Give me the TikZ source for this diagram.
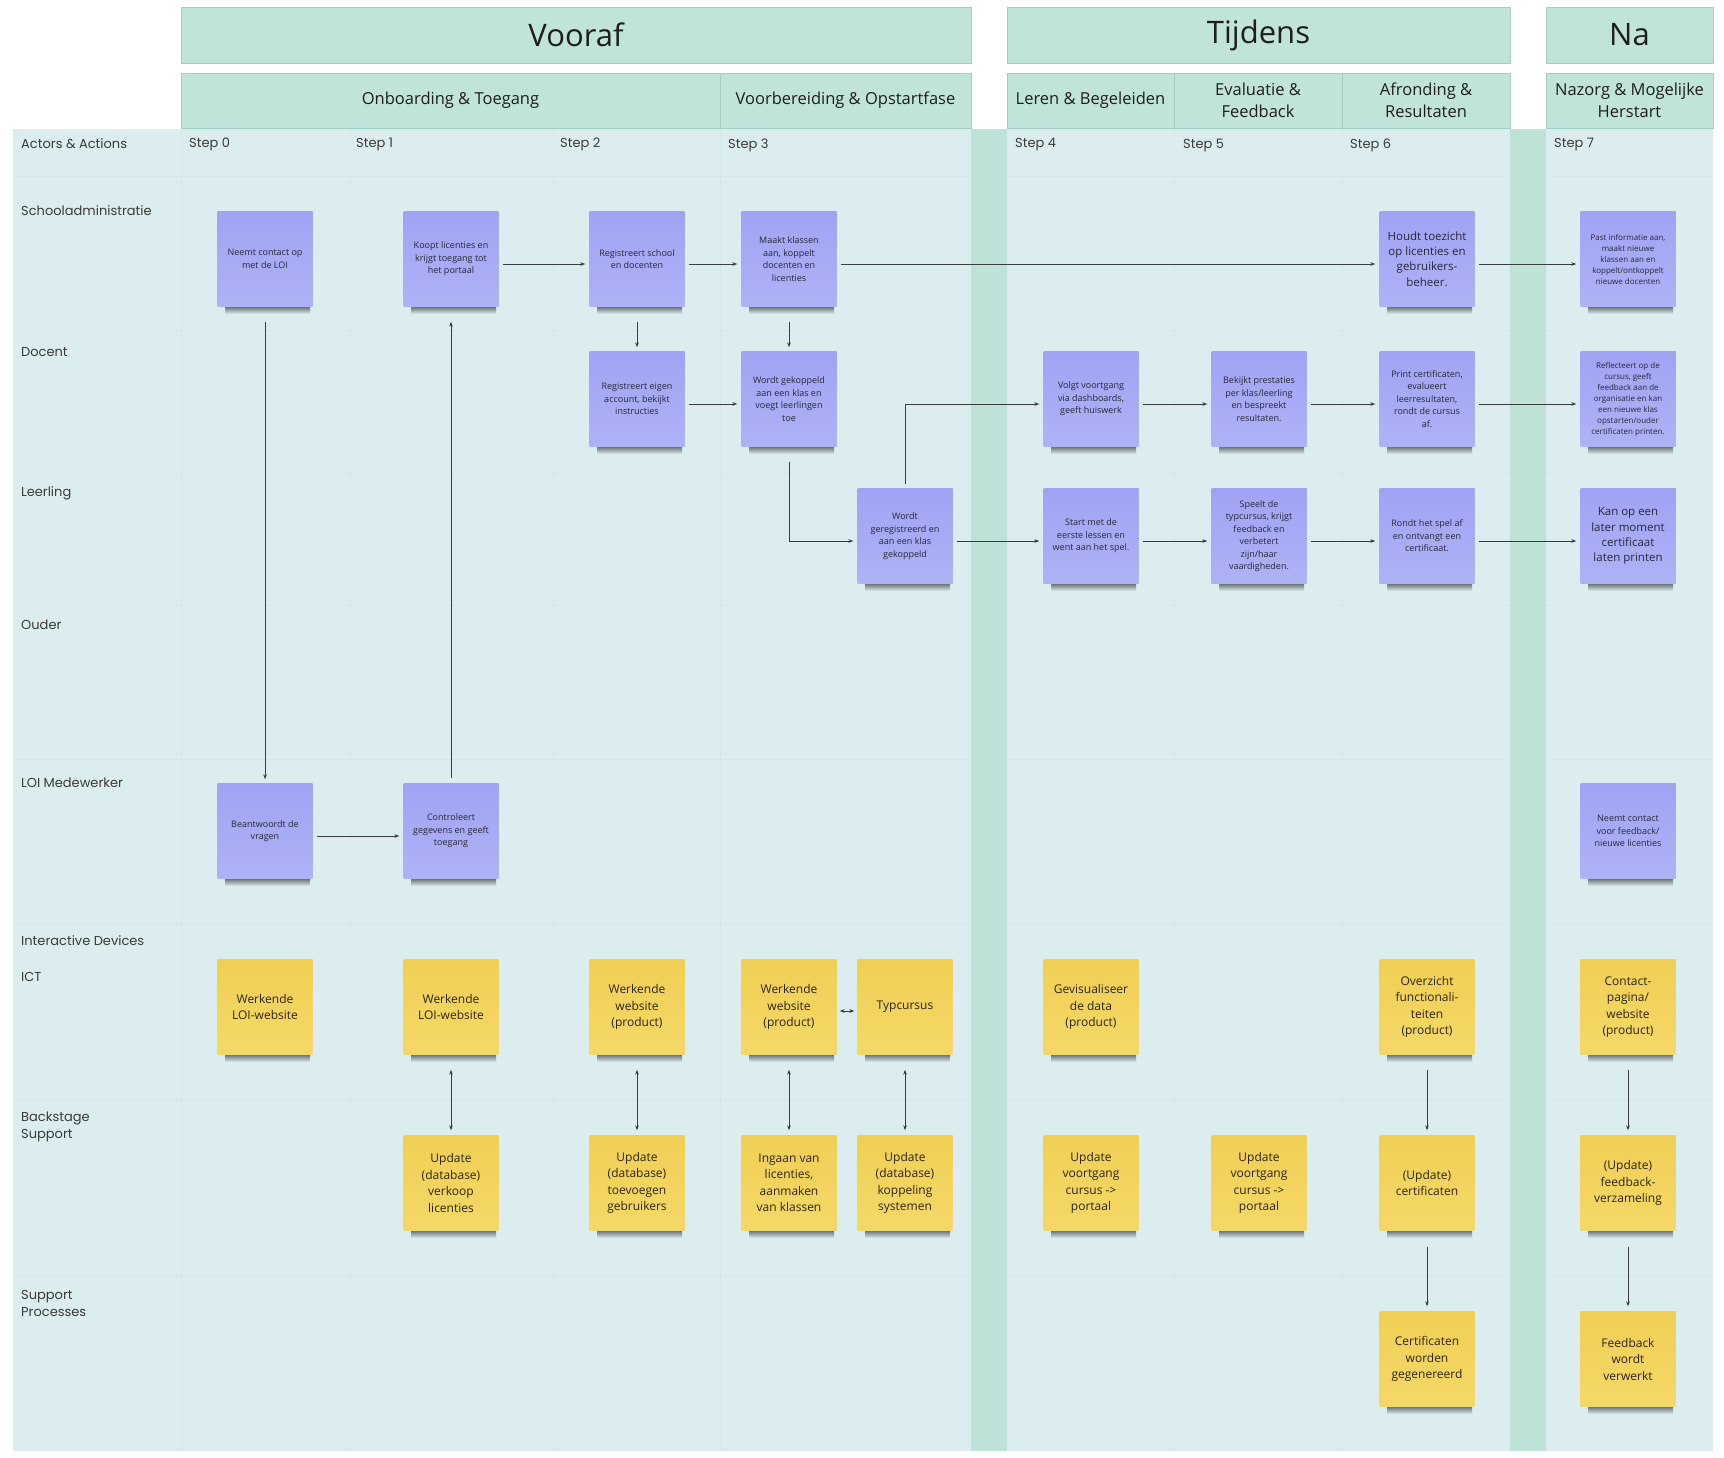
\documentclass[tikz,border=0pt]{standalone}
\usepackage{fontspec}
\setmainfont{Open Sans}
\newfontfamily\lblfont{Poppins}
\usetikzlibrary{arrows.meta}
\definecolor{hdrfill}{HTML}{C0E3DA}
\definecolor{hdrline}{HTML}{A3CFC3}
\definecolor{bodybg}{HTML}{DBEDEF}
\definecolor{bandc}{HTML}{BEE2D8}
\definecolor{sepc}{HTML}{D4E8EA}
\definecolor{purtop}{HTML}{A0A3F3}
\definecolor{purbot}{HTML}{AEB2F6}
\definecolor{yeltop}{HTML}{F1CF55}
\definecolor{yelbot}{HTML}{F4D867}
\definecolor{shadowc}{HTML}{5E6567}
\definecolor{notetext}{HTML}{262838}
\definecolor{yeltext}{HTML}{2A2619}
\definecolor{linec}{HTML}{3A3D40}
\definecolor{lbltext}{HTML}{3B3B3B}
\definecolor{hdrtext}{HTML}{1E1E1E}
\tikzset{
  note/.style={minimum width=95pt, minimum height=95pt, inner sep=0pt, align=center},
  pnote/.style={note, top color=purtop, bottom color=purbot, text=notetext, font=\fontsize{9}{12.5}\selectfont},
  pbig/.style={pnote, font=\fontsize{11.5}{15.2}\selectfont},
  psmall/.style={pnote, font=\fontsize{8}{11}\selectfont},
  ynote/.style={note, top color=yeltop, bottom color=yelbot, text=yeltext, font=\fontsize{12}{16.5}\selectfont},
  flow/.style={draw=linec, line width=0.9pt, -{Stealth[length=5pt,width=3.6pt]}},
  both/.style={draw=linec, line width=0.9pt, {Stealth[length=5pt,width=3.6pt]}-{Stealth[length=5pt,width=3.6pt]}},
  hdr/.style={draw=hdrline, fill=hdrfill, line width=0.8pt, inner sep=0pt, text=hdrtext, align=center},
  hbig/.style={hdr, font=\fontsize{31}{36}\selectfont, minimum height=56pt},
  hsub/.style={hdr, font=\fontsize{16.5}{22.4}\selectfont, minimum height=55pt},
  lbl/.style={anchor=west, inner sep=0pt, text=lbltext, font=\lblfont\fontsize{13}{17}\selectfont, align=left},
  sep/.style={draw=sepc, line width=0.6pt},
}
\newcommand\stk[5]{%
  \shade[top color=shadowc, bottom color=bodybg] ({#3-40},{#4+47}) rectangle ({#3+45},{#4+55});
  \node[#1] (#2) at (#3,#4) {#5};
}
\begin{document}
\begin{tikzpicture}[x=1pt,y=-1pt]
\useasboundingbox (0,0) rectangle (1724,1458);
\fill[white] (0,0) rectangle (1724,1458);
% body
\fill[bodybg] (13,129) rectangle (1713,1451);
\foreach \yy in {176,330,473,605,759,924,1100,1276} \draw[sep] (13,\yy) -- (1713,\yy);
\foreach \xx in {181,350,553,720,1174,1342} \draw[sep] (\xx,129) -- (\xx,1451);
\fill[bandc] (971,129) rectangle (1007,1451);
\fill[bandc] (1510,129) rectangle (1546,1451);
% headers
\node[hbig, minimum width=790pt] (vooraf) at (576,35) {Vooraf};
\node[hbig, minimum width=503pt] (tijdens) at (1258.5,35) {Tijdens};
\node[hbig, minimum width=167pt] (na) at (1629.5,35) {Na};
\node[hsub, minimum width=539pt] (onb) at (450.5,100.5) {Onboarding \& Toegang};
\node[hsub, minimum width=251pt] (voorb) at (845.5,100.5) {Voorbereiding \& Opstartfase};
\node[hsub, minimum width=167pt] (leren) at (1090.5,100.5) {Leren \& Begeleiden};
\node[hsub, minimum width=168pt] (eval) at (1258,100.5) {Evaluatie \&\\Feedback};
\node[hsub, minimum width=168pt] (afr) at (1426,100.5) {Afronding \&\\Resultaten};
\node[hsub, minimum width=167pt] (nazorg) at (1629.5,100.5) {Nazorg \& Mogelijke\\Herstart};
% row labels
\node[lbl] (lact) at (21,144) {Actors \& Actions};
\node[lbl] (lsch) at (21,211) {Schooladministratie};
\node[lbl] (ldoc) at (21,352) {Docent};
\node[lbl] (llee) at (21,493) {Leerling};
\node[lbl] (loud) at (21,625) {Ouder};
\node[lbl] (lloi) at (21,783) {LOI Medewerker};
\node[lbl] (lint) at (21,941) {Interactive Devices};
\node[lbl] (lict) at (21,977) {ICT};
\node[lbl] (lbac) at (21,1127) {Backstage\\Support};
\node[lbl] (lsup) at (21,1303) {Support\\Processes};
% steps
\node[lbl] (s0) at (189,144) {Step 0};
\node[lbl] (s1) at (356,144) {Step 1};
\node[lbl] (s2) at (560,144) {Step 2};
\node[lbl] (s3) at (728,145) {Step 3};
\node[lbl] (s4) at (1015,145) {Step 4};
\node[lbl] (s5) at (1183,145) {Step 5};
\node[lbl] (s6) at (1350,145) {Step 6};
\node[lbl] (s7) at (1554,145) {Step 7};
% Schooladministratie
\stk{pnote}{n0}{265}{259}{Neemt contact op\\met de LOI}
\stk{pnote}{n1}{451}{259}{Koopt licenties en\\krijgt toegang tot\\het portaal}
\stk{pnote}{n2}{637}{259}{Registreert school\\en docenten}
\stk{pnote}{n3}{789}{259}{Maakt klassen\\aan, koppelt\\docenten en\\licenties}
\stk{pbig}{n6}{1427}{259}{Houdt toezicht\\op licenties en\\gebruikers-\\beheer.}
\stk{psmall}{n7}{1628}{259}{Past informatie aan,\\maakt nieuwe\\klassen aan en\\koppelt/ontkoppelt\\nieuwe docenten}
% Docent
\stk{pnote}{d2}{637}{399}{Registreert eigen\\account, bekijkt\\instructies}
\stk{pnote}{d3}{789}{399}{Wordt gekoppeld\\aan een klas en\\voegt leerlingen\\toe}
\stk{pnote}{d4}{1091}{399}{Volgt voortgang\\via dashboards,\\geeft huiswerk}
\stk{pnote}{d5}{1259}{399}{Bekijkt prestaties\\per klas/leerling\\en bespreekt\\resultaten.}
\stk{pnote}{d6}{1427}{399}{Print certificaten,\\evalueert\\leerresultaten,\\rondt de cursus\\af.}
\stk{psmall}{d7}{1628}{399}{Reflecteert op de\\cursus, geeft\\feedback aan de\\organisatie en kan\\een nieuwe klas\\opstarten/ouder\\certificaten printen.}
% Leerling
\stk{pnote}{l3}{905}{536}{Wordt\\geregistreerd en\\aan een klas\\gekoppeld}
\stk{pnote}{l4}{1091}{536}{Start met de\\eerste lessen en\\went aan het spel.}
\stk{pnote}{l5}{1259}{536}{Speelt de\\typcursus, krijgt\\feedback en\\verbetert\\zijn/haar\\vaardigheden.}
\stk{pnote}{l6}{1427}{536}{Rondt het spel af\\en ontvangt een\\certificaat.}
\stk{pbig}{l7}{1628}{536}{Kan op een\\later moment\\certificaat\\laten printen}
% LOI Medewerker
\stk{pnote}{m0}{265}{831}{Beantwoordt de\\vragen}
\stk{pnote}{m1}{451}{831}{Controleert\\gegevens en geeft\\toegang}
\stk{pnote}{m7}{1628}{831}{Neemt contact\\voor feedback/\\nieuwe licenties}
% ICT
\stk{ynote}{i0}{265}{1007}{Werkende\\LOI-website}
\stk{ynote}{i1}{451}{1007}{Werkende\\LOI-website}
\stk{ynote}{i2}{637}{1007}{Werkende\\website\\(product)}
\stk{ynote}{i3}{789}{1007}{Werkende\\website\\(product)}
\stk{ynote}{i3b}{905}{1007}{Typcursus}
\stk{ynote}{i4}{1091}{1007}{Gevisualiseer\\de data\\(product)}
\stk{ynote}{i6}{1427}{1007}{Overzicht\\functionali-\\teiten\\(product)}
\stk{ynote}{i7}{1628}{1007}{Contact-\\pagina/\\website\\(product)}
% Backstage
\stk{ynote}{b1}{451}{1183}{Update\\(database)\\verkoop\\licenties}
\stk{ynote}{b2}{637}{1183}{Update\\(database)\\toevoegen\\gebruikers}
\stk{ynote}{b3}{789}{1183}{Ingaan van\\licenties,\\aanmaken\\van klassen}
\stk{ynote}{b3b}{905}{1183}{Update\\(database)\\koppeling\\systemen}
\stk{ynote}{b4}{1091}{1183}{Update\\voortgang\\cursus ->\\portaal}
\stk{ynote}{b5}{1259}{1183}{Update\\voortgang\\cursus ->\\portaal}
\stk{ynote}{b6}{1427}{1183}{(Update)\\certificaten}
\stk{ynote}{b7}{1628}{1183}{(Update)\\feedback-\\verzameling}
% Support
\stk{ynote}{sp6}{1427}{1359}{Certificaten\\worden\\gegenereerd}
\stk{ynote}{sp7}{1628}{1359}{Feedback\\wordt\\verwerkt}
% connectors
\draw[flow] ([yshift=-15pt]n0.south) -- ([yshift=4pt]m0.north);
\draw[flow] ([xshift=4pt,yshift=-5pt]m0.east) -- ([xshift=-4pt,yshift=-5pt]m1.west);
\draw[flow] ([yshift=5pt]m1.north) -- ([yshift=-15pt]n1.south);
\draw[flow] ([xshift=4pt,yshift=-5pt]n1.east) -- ([xshift=-4pt,yshift=-5pt]n2.west);
\draw[flow] ([xshift=4pt,yshift=-5pt]n2.east) -- ([xshift=-4pt,yshift=-5pt]n3.west);
\draw[flow] ([xshift=4pt,yshift=-5pt]n3.east) -- ([xshift=-4pt,yshift=-5pt]n6.west);
\draw[flow] ([xshift=4pt,yshift=-5pt]n6.east) -- ([xshift=-4pt,yshift=-5pt]n7.west);
\draw[flow] ([yshift=-15pt]n2.south) -- ([yshift=4pt]d2.north);
\draw[flow] ([yshift=-15pt]n3.south) -- ([yshift=4pt]d3.north);
\draw[flow] ([xshift=4pt,yshift=-5pt]d2.east) -- ([xshift=-4pt,yshift=-5pt]d3.west);
\draw[flow] ([yshift=-15pt]d3.south) |- ([xshift=-4pt,yshift=-5pt]l3.west);
\draw[flow] ([yshift=4pt]l3.north) |- ([xshift=-4pt,yshift=-5pt]d4.west);
\draw[flow] ([xshift=4pt,yshift=-5pt]l3.east) -- ([xshift=-4pt,yshift=-5pt]l4.west);
\draw[flow] ([xshift=4pt,yshift=-5pt]d4.east) -- ([xshift=-4pt,yshift=-5pt]d5.west);
\draw[flow] ([xshift=4pt,yshift=-5pt]d5.east) -- ([xshift=-4pt,yshift=-5pt]d6.west);
\draw[flow] ([xshift=4pt,yshift=-5pt]d6.east) -- ([xshift=-4pt,yshift=-5pt]d7.west);
\draw[flow] ([xshift=4pt,yshift=-5pt]l4.east) -- ([xshift=-4pt,yshift=-5pt]l5.west);
\draw[flow] ([xshift=4pt,yshift=-5pt]l5.east) -- ([xshift=-4pt,yshift=-5pt]l6.west);
\draw[flow] ([xshift=4pt,yshift=-5pt]l6.east) -- ([xshift=-4pt,yshift=-5pt]l7.west);
\draw[both, line width=0.7pt] ([xshift=3pt,yshift=-4pt]i3.east) -- ([xshift=-3pt,yshift=-4pt]i3b.west);
\draw[both] ([yshift=-15pt]i1.south) -- ([yshift=5pt]b1.north);
\draw[both] ([yshift=-15pt]i2.south) -- ([yshift=5pt]b2.north);
\draw[both] ([yshift=-15pt]i3.south) -- ([yshift=5pt]b3.north);
\draw[both] ([yshift=-15pt]i3b.south) -- ([yshift=5pt]b3b.north);
\draw[flow] ([yshift=-15pt]i6.south) -- ([yshift=5pt]b6.north);
\draw[flow] ([yshift=-15pt]i7.south) -- ([yshift=5pt]b7.north);
\draw[flow] ([yshift=-16pt]b6.south) -- ([yshift=5pt]sp6.north);
\draw[flow] ([yshift=-16pt]b7.south) -- ([yshift=5pt]sp7.north);
\end{tikzpicture}
\end{document}
